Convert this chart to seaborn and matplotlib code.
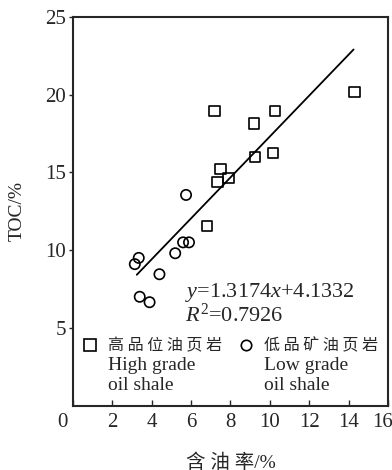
import pandas as pd
import matplotlib
matplotlib.use("Agg")
import matplotlib.pyplot as plt
import matplotlib.transforms as mtransforms
from matplotlib.lines import Line2D
import seaborn as sns

# high grade oil shale (squares)
high_oil = [7.2, 7.5, 7.35, 7.9, 6.8, 9.2, 10.25, 9.25, 10.15, 14.3]
high_toc = [18.95, 15.2, 14.4, 14.65, 11.55, 18.15, 18.95, 16.0, 16.25, 20.15]
# low grade oil shale (circles)
low_oil = [5.75, 3.35, 3.15, 4.4, 5.2, 5.6, 5.9, 3.4, 3.9]
low_toc = [13.55, 9.5, 9.1, 8.45, 9.8, 10.5, 10.5, 7.0, 6.65]

# fitted line y = 1.3174x + 4.1332
slope, intercept = 1.3174, 4.1332
fit_x = [3.25, 14.25]

xticks = [0, 2, 4, 6, 8, 10, 12, 14, 16]
yticks = [5, 10, 15, 20, 25]

high_cn = "高 品 位 油 页 岩"
low_cn = "低 品 矿 油 页 岩"
high_en = ["High grade", "oil shale"]
low_en = ["Low grade", "oil shale"]

sns.set_style("ticks")
plt.rcParams['font.family'] = ['Liberation Serif', 'Noto Sans CJK SC']
plt.rcParams['mathtext.fontset'] = 'custom'
plt.rcParams['mathtext.rm'] = 'Liberation Serif'
plt.rcParams['mathtext.it'] = 'Liberation Serif:italic'

df = pd.concat([
    pd.DataFrame({'oil': high_oil, 'toc': high_toc, 'grade': 'high'}),
    pd.DataFrame({'oil': low_oil, 'toc': low_toc, 'grade': 'low'}),
], ignore_index=True)

fig = plt.figure(figsize=(3.92, 4.70), dpi=100)
ax = fig.add_axes([0.1855, 0.137, 0.8045, 0.827])

sns.scatterplot(data=df, x='oil', y='toc', style='grade',
                markers={'high': 's', 'low': 'o'}, s=55,
                facecolor='none', edgecolor='black', linewidth=1.2,
                legend=False, ax=ax)

fit_y = [slope * v + intercept for v in fit_x]
sns.lineplot(x=fit_x, y=fit_y, color='black', lw=1.3, ax=ax)

ax.set_xlim(0, 16)
ax.set_ylim(0, 25)
ax.set_xticks(xticks)
ax.set_xticklabels([str(t) for t in xticks])
ax.set_yticks(yticks)
ax.set_yticklabels([str(t) for t in yticks])
ax.tick_params(axis='x', direction='in', length=4, width=1, pad=5, labelsize=15)
ax.tick_params(axis='y', direction='out', length=3, width=1, pad=2, labelsize=15)
for sp in ax.spines.values():
    sp.set_linewidth(1.5)
    sp.set_visible(True)

# nudge the corner labels inward like the original
xlabels = ax.get_xticklabels()
xlabels[0].set_transform(xlabels[0].get_transform()
                         + mtransforms.ScaledTranslation(-10 / 100, 0, fig.dpi_scale_trans))
xlabels[-1].set_transform(xlabels[-1].get_transform()
                          + mtransforms.ScaledTranslation(-6 / 100, 0, fig.dpi_scale_trans))

ax.set_xlabel("含 油 率/%", fontsize=14)
ax.xaxis.set_label_coords(0.5, -0.122)
ax.set_ylabel("TOC/%", fontsize=14)
ax.yaxis.set_label_coords(-0.148, 0.5)

ax.text(0.356, 0.29, "$y$=1.3174$x$+4.1332", transform=ax.transAxes,
        ha='left', va='center', fontsize=16)
ax.text(0.356, 0.232, "$R^2$=0.7926", transform=ax.transAxes,
        ha='left', va='center', fontsize=16)

handles = [
    Line2D([], [], marker='s', ls='none', mfc='none', mec='black', ms=8, mew=1.2),
    Line2D([], [], marker='o', ls='none', mfc='none', mec='black', ms=7.5, mew=1.2),
]
leg = ax.legend(handles, [high_cn, low_cn], ncol=2, frameon=False,
                loc='center left', bbox_to_anchor=(0.031, 0.154),
                borderpad=0, borderaxespad=0, handlelength=1,
                handletextpad=0.6, columnspacing=1.0,
                prop={'family': ['Noto Sans CJK SC'], 'size': 11.5})

# english lines under each legend entry
fig.canvas.draw()
inv = ax.transAxes.inverted()
for txt, lines in zip(leg.get_texts(), [high_en, low_en]):
    x0 = inv.transform(txt.get_window_extent())[0][0]
    ax.text(x0, 0.102, lines[0], transform=ax.transAxes, ha='left', va='center', fontsize=14)
    ax.text(x0, 0.0515, lines[1], transform=ax.transAxes, ha='left', va='center', fontsize=14)

fig.savefig("out.png", dpi=100)
plt.close(fig)
